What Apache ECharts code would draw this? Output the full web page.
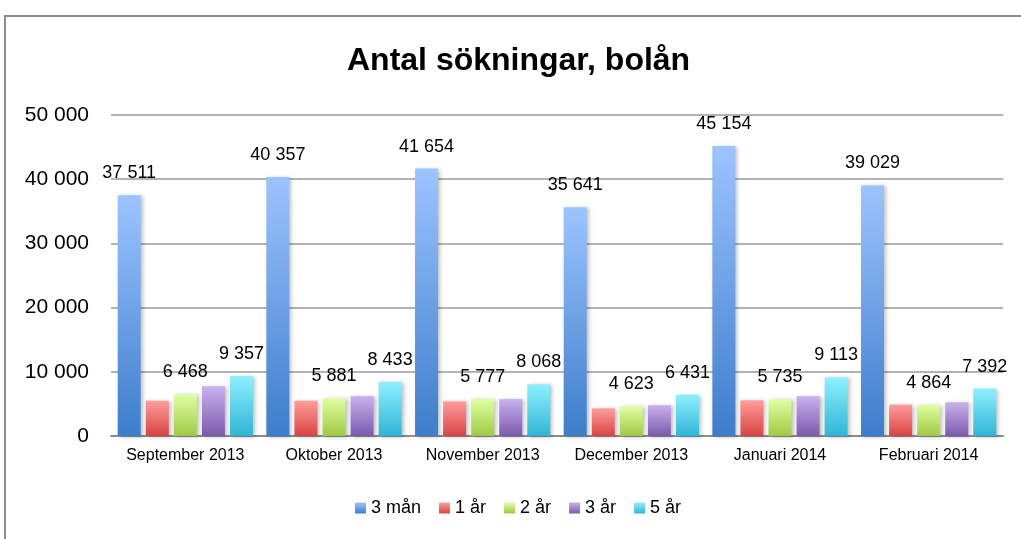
<!DOCTYPE html>
<html>
<head>
<meta charset="utf-8">
<script src="https://cdn.jsdelivr.net/npm/echarts@6/dist/echarts.min.js"></script>
<style>
  html, body { margin: 0; padding: 0; background: #fff; }
  #chart { width: 1021px; height: 539px; }
</style>
</head>
<body>
<div id="chart"></div>
<script>
const months = ['September 2013', 'Oktober 2013', 'November 2013', 'December 2013', 'Januari 2014', 'Februari 2014'];
const seriesNames = ['3 mån', '1 år', '2 år', '3 år', '5 år'];
const man3 = [37511, 40357, 41654, 35641, 45154, 39029];
const ar1 = [5500, 5500, 5400, 4300, 5550, 4900];
const ar2 = [6468, 5881, 5777, 4623, 5735, 4864];
const ar3 = [7750, 6200, 5750, 4800, 6200, 5250];
const ar5 = [9357, 8433, 8068, 6431, 9113, 7392];
const yTicks = [0, 10000, 20000, 30000, 40000, 50000];

const values = [man3, ar1, ar2, ar3, ar5];
const showLabel = [true, false, true, false, true];
const gradients = [
  ['#9cc4ff', '#3d7dcb'],
  ['#ff9d9b', '#d74442'],
  ['#e0ffa2', '#9fc944'],
  ['#c9b1ee', '#7b5aad'],
  ['#8ff0ff', '#2fb5d6']
];

const fmt = v => String(v).replace(/\B(?=(\d{3})+(?!\d))/g, ' ');
const font = '"Liberation Sans", Arial, sans-serif';

const chart = echarts.init(document.getElementById('chart'));
chart.setOption({
  animation: false,
  textStyle: { fontFamily: font },
  graphic: [{
    type: 'rect',
    shape: { x: 5, y: 16, width: 1030, height: 540 },
    style: { fill: 'none', stroke: '#8c8c8c', lineWidth: 2 },
    silent: true
  }],
  title: {
    text: 'Antal sökningar, bolån',
    left: 342,
    top: 40,
    textStyle: { fontSize: 32, fontWeight: 'bold', color: '#000', fontFamily: font }
  },
  legend: {
    bottom: 17,
    left: 350,
    itemWidth: 11,
    itemHeight: 11,
    itemGap: 18,
    icon: 'rect',
    textStyle: { fontSize: 18, color: '#000' },
    data: seriesNames
  },
  grid: { left: 111, right: 18, top: 115, bottom: 103, containLabel: false },
  xAxis: {
    type: 'category',
    data: months,
    axisTick: { show: false },
    axisLine: { lineStyle: { color: '#8c8c8c', width: 2 } },
    axisLabel: { fontSize: 16, color: '#000', margin: 12, interval: 0 }
  },
  yAxis: {
    type: 'value',
    min: yTicks[0],
    max: yTicks[yTicks.length - 1],
    interval: 10000,
    axisLine: { show: false },
    axisTick: { show: false },
    axisLabel: { fontSize: 21, color: '#000', margin: 22, formatter: v => fmt(v) },
    splitLine: { lineStyle: { color: '#9a9a9a', width: 1.5 } }
  },
  series: seriesNames.map((name, i) => ({
    name: name,
    type: 'bar',
    data: values[i],
    barWidth: 23,
    barGap: '22%',
    itemStyle: {
      color: new echarts.graphic.LinearGradient(0, 0, 0, 1, [
        { offset: 0, color: gradients[i][0] },
        { offset: 1, color: gradients[i][1] }
      ]),
      shadowBlur: 4,
      shadowOffsetX: 2,
      shadowOffsetY: 1,
      shadowColor: 'rgba(0,0,0,0.25)'
    },
    label: {
      show: showLabel[i],
      position: 'top',
      distance: 13,
      fontSize: 18,
      color: '#000',
      formatter: p => fmt(p.value)
    }
  }))
});
</script>
</body>
</html>
